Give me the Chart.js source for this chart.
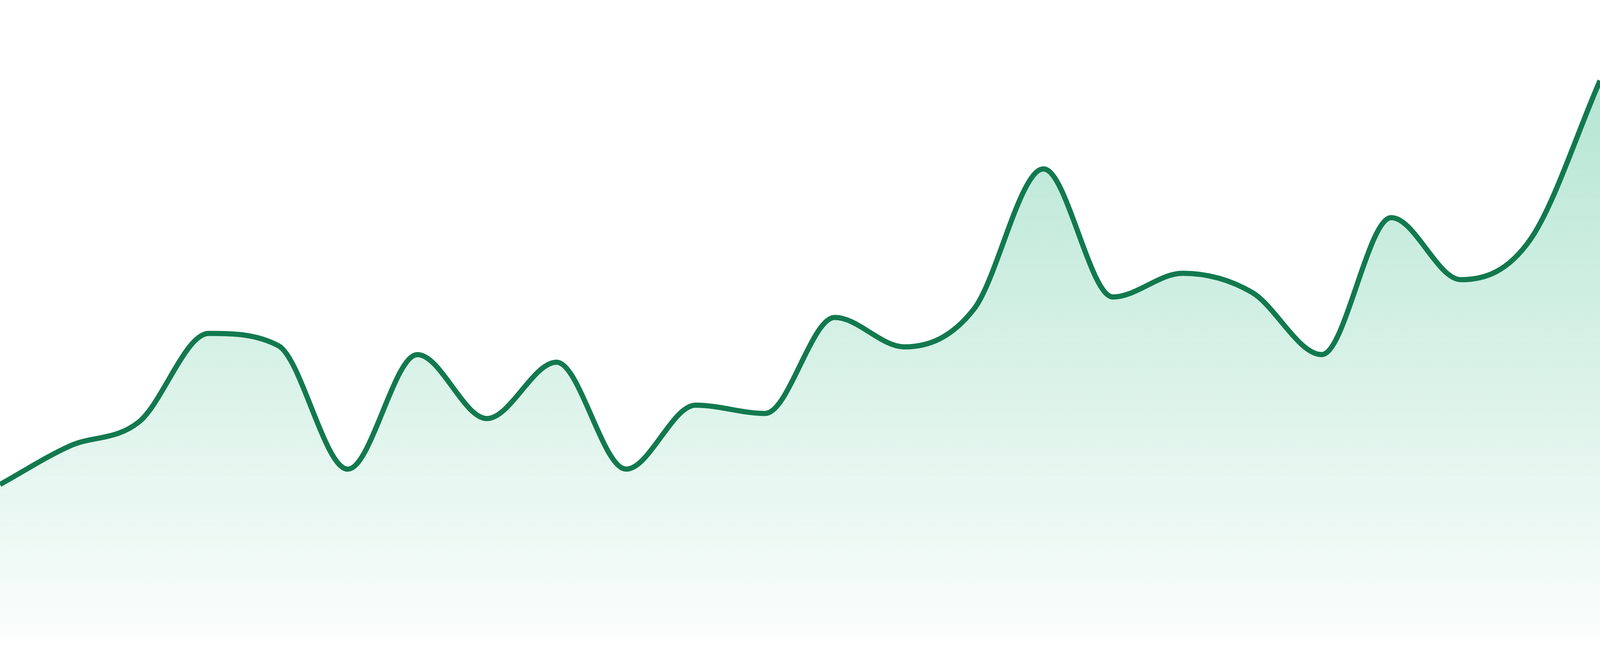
<!DOCTYPE html>
<html>
<head>
<meta charset="utf-8">
<title>Area chart</title>
<script src="https://cdn.jsdelivr.net/npm/chart.js@4.4.1/dist/chart.umd.min.js"></script>
<style>
  html, body {
    margin: 0;
    padding: 0;
    background: #ffffff;
    overflow: hidden;
  }
  .chart-box {
    position: relative;
    width: 100vw;
    height: 100vh;
  }
</style>
</head>
<body>
<div class="chart-box">
  <canvas id="myChart"></canvas>
</div>
<script>
const hour_labels = ["00:00", "01:00", "02:00", "03:00", "04:00", "05:00", "06:00", "07:00",
  "08:00", "09:00", "10:00", "11:00", "12:00", "13:00", "14:00", "15:00",
  "16:00", "17:00", "18:00", "19:00", "20:00", "21:00", "22:00", "23:00"];

const visits = [24.3, 30.3, 34.1, 47.9, 46.0, 26.7, 44.6, 34.6,
  43.4, 26.7, 36.7, 35.4, 50.4, 45.8, 51.7, 73.6,
  53.6, 57.3, 54.3, 44.6, 66.0, 56.3, 62.6, 87.4];

const y_min = 0;
const y_max = 100;

// the reference was 4800 px wide, so sizes are scaled from that
let unit = window.innerWidth / 4800;

let ctx = document.getElementById("myChart").getContext("2d");

function fillGradient(context) {
  let chart = context.chart;
  let area = chart.chartArea;
  if (!area) {
    return "rgba(34, 179, 122, 0.2)";
  }
  let gradient = chart.ctx.createLinearGradient(0, area.top, 0, area.bottom);
  gradient.addColorStop(0, "rgba(34, 179, 122, 0.38)");
  gradient.addColorStop(1, "rgba(34, 179, 122, 0.02)");
  return gradient;
}

let my_chart = new Chart(ctx, {
  type: "line",
  data: {
    labels: hour_labels,
    datasets: [
      {
        label: "Visits",
        data: visits,
        borderColor: "#12794f",
        borderWidth: 15.5 * unit,
        backgroundColor: fillGradient,
        fill: "start",
        cubicInterpolationMode: "monotone",
        pointRadius: 0,
        pointHoverRadius: 0,
      },
    ],
  },
  options: {
    responsive: true,
    maintainAspectRatio: false,
    animation: false,
    layout: {
      padding: { top: 0, right: 0, bottom: 48 * unit, left: 0 },
    },
    plugins: {
      legend: { display: false },
      tooltip: { enabled: false },
    },
    scales: {
      x: { display: false },
      y: { display: false, min: y_min, max: y_max },
    },
  },
});
</script>
</body>
</html>
